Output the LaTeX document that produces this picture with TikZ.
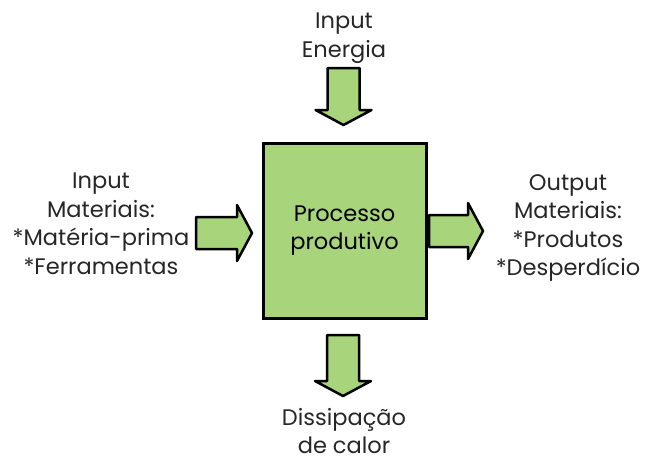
\documentclass[tikz,border=0pt]{standalone}
\usepackage{fontspec}
\setmainfont{Poppins}
\definecolor{procgreen}{RGB}{168,212,124}
\tikzset{
    every node/.style={
        font=\fontsize{22.5}{28.5}\selectfont,
        align=center},
    procbox/.style={
        draw=black,
        line width=3pt,
        fill=procgreen,
        minimum width=163pt,
        minimum height=175pt},
    flowline/.style={
        draw=black,
        line width=2.5pt,
        line join=round,
        fill=procgreen},
    % block arrow of length #1, drawn from its tail along x
    pics/blkarrow/.style={
        code={
            \draw[flowline] (0,-16) -- (#1-15,-16) -- (#1-15,-28) -- (#1,0)
                -- (#1-15,28) -- (#1-15,16) -- (0,16) -- cycle;
        }},
    label/.style={text=black!85, inner sep=1pt}}

\begin{document}
\begin{tikzpicture}[x=1pt,y=-1pt]
    \useasboundingbox (0,0) rectangle (647,460);
    % central process
    \node[procbox] (proc) at (344.5,230.5) {Processo\\produtivo};
    % inputs and outputs around it
    \node[label] (energia) at (344,38) {Input\\Energia};
    \node[label] (matin) at (101,224) {Input\\Materiais:\\*Matéria-prima\\*Ferramentas};
    \node[label] (matout) at (568,228) {Output\\Materiais:\\*Produtos\\*Desperdício};
    \node[label] (calor) at (344,431) {Dissipação\\de calor};
    % block arrows
    \pic[rotate=-90] (arrE) at (343.5,68) {blkarrow=57};
    \pic (arrM) at (196,233) {blkarrow=56};
    \pic (arrO) at (429,231) {blkarrow=54};
    \pic[rotate=-90] (arrC) at (343,335) {blkarrow=61};
\end{tikzpicture}
\end{document}
